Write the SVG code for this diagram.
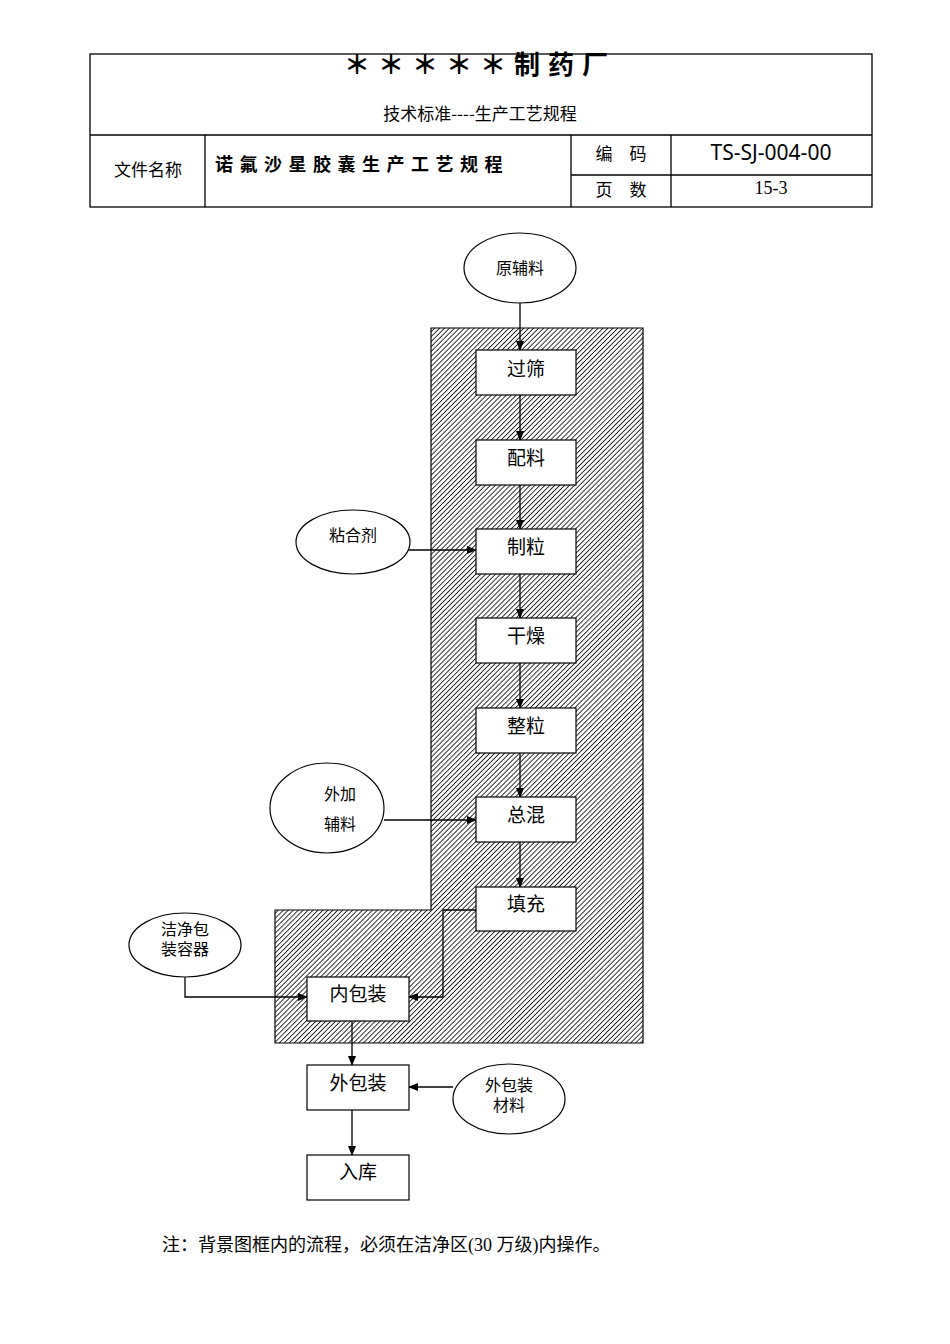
<svg xmlns="http://www.w3.org/2000/svg" width="950" height="1344" viewBox="0 0 950 1344">
<style>
text{font-family:"Liberation Serif","Noto Sans CJK SC",serif;fill:#000}
.ln{stroke:#000;stroke-width:1.3;fill:none}
.box{fill:#fff;stroke:#000;stroke-width:1.2}
.t{font-size:19px;text-anchor:middle}
.e{font-size:16px;text-anchor:middle}
.c{stroke:#000;stroke-width:1.3;fill:none;marker-end:url(#ah)}
</style>
<defs>
<pattern id="hp" width="3.5" height="3.5" patternUnits="userSpaceOnUse" patternTransform="rotate(45)">
<rect width="3.5" height="3.5" fill="#fff"/>
<line x1="0" y1="0" x2="0" y2="3.5" stroke="#111" stroke-width="1.7"/>
</pattern>
<marker id="ah" markerWidth="10" markerHeight="8" refX="9" refY="4" orient="auto" markerUnits="userSpaceOnUse">
<path d="M0,0L10,4L0,8z" fill="#000"/>
</marker>
</defs>
<g id="header">
<rect x="90" y="54" width="782" height="153" class="ln"/>
<line x1="90" y1="135" x2="872" y2="135" class="ln"/>
<line x1="205" y1="135" x2="205" y2="207" class="ln"/>
<line x1="571" y1="135" x2="571" y2="207" class="ln"/>
<line x1="671" y1="135" x2="671" y2="207" class="ln"/>
<line x1="571" y1="175" x2="872" y2="175" class="ln"/>
<text x="480" y="74" font-size="26" font-weight="bold" text-anchor="middle" letter-spacing="8">＊＊＊＊＊制药厂</text>
<text x="480" y="120" font-size="17" text-anchor="middle" style="font-family:'Noto Sans CJK SC',sans-serif">技术标准----生产工艺规程</text>
<text x="148" y="176" font-size="17" text-anchor="middle">文件名称</text>
<text x="215" y="171" font-size="18" font-weight="bold" letter-spacing="6.5">诺氟沙星胶囊生产工艺规程</text>
<text x="621" y="160" font-size="17" text-anchor="middle">编　码</text>
<text x="621" y="196" font-size="17" text-anchor="middle">页　数</text>
<text x="771" y="160" font-size="21" text-anchor="middle" style="font-family:'Noto Sans','Liberation Sans',sans-serif">TS-SJ-004-00</text>
<text x="771" y="194" font-size="18" text-anchor="middle">15-3</text>
</g>
<g id="clean-zone">
<path d="M431,328H643V1043H275V910H431Z" fill="url(#hp)" stroke="#000" stroke-width="1.2"/>
</g>
<g id="connectors">
<line x1="520" y1="303" x2="520" y2="350" class="c"/>
<line x1="520" y1="395" x2="520" y2="440" class="c"/>
<line x1="520" y1="485" x2="520" y2="529" class="c"/>
<line x1="520" y1="574" x2="520" y2="618" class="c"/>
<line x1="520" y1="663" x2="520" y2="708" class="c"/>
<line x1="520" y1="753" x2="520" y2="797" class="c"/>
<line x1="520" y1="842" x2="520" y2="887" class="c"/>
<line x1="407" y1="550" x2="476" y2="550" class="c"/>
<line x1="384" y1="820" x2="476" y2="820" class="c"/>
<path d="M476,910H443V997H409" class="c"/>
<path d="M185,977V997H307" class="c"/>
<line x1="352" y1="1021" x2="352" y2="1065" class="c"/>
<line x1="453" y1="1087" x2="409" y2="1087" class="c"/>
<line x1="352" y1="1110" x2="352" y2="1155" class="c"/>
</g>
<g id="n-raw"><ellipse cx="520" cy="268" rx="56" ry="35" class="box"/><text x="520" y="274" class="e">原辅料</text></g>
<g id="n-sieve"><rect x="476" y="350" width="100" height="45" class="box"/><text x="526" y="376" class="t">过筛</text></g>
<g id="n-mix"><rect x="476" y="440" width="100" height="45" class="box"/><text x="526" y="465" class="t">配料</text></g>
<g id="n-gran"><rect x="476" y="529" width="100" height="45" class="box"/><text x="526" y="554" class="t">制粒</text></g>
<g id="n-dry"><rect x="476" y="618" width="100" height="45" class="box"/><text x="526" y="643" class="t">干燥</text></g>
<g id="n-size"><rect x="476" y="708" width="100" height="45" class="box"/><text x="526" y="733" class="t">整粒</text></g>
<g id="n-blend"><rect x="476" y="797" width="100" height="45" class="box"/><text x="526" y="822" class="t">总混</text></g>
<g id="n-fill"><rect x="476" y="887" width="100" height="44" class="box"/><text x="526" y="911" class="t">填充</text></g>
<g id="n-inner"><rect x="307" y="977" width="102" height="44" class="box"/><text x="358" y="1001" class="t">内包装</text></g>
<g id="n-outer"><rect x="307" y="1065" width="102" height="45" class="box"/><text x="358" y="1090" class="t">外包装</text></g>
<g id="n-store"><rect x="307" y="1155" width="102" height="45" class="box"/><text x="358" y="1179" class="t">入库</text></g>
<g id="n-binder"><ellipse cx="353" cy="542" rx="57" ry="32" class="box"/><text x="353" y="541" class="e">粘合剂</text></g>
<g id="n-extra"><ellipse cx="327" cy="808" rx="57" ry="45" class="box"/><text x="340" y="800" class="e">外加</text><text x="340" y="830" class="e">辅料</text></g>
<g id="n-cont"><ellipse cx="185" cy="945" rx="56" ry="32" class="box"/><text x="185" y="935" class="e">洁净包</text><text x="185" y="955" class="e">装容器</text></g>
<g id="n-pack"><ellipse cx="509" cy="1099" rx="56" ry="35" class="box"/><text x="509" y="1091" class="e">外包装</text><text x="509" y="1111" class="e">材料</text></g>
<text x="162" y="1251" font-size="18">注：背景图框内的流程，必须在洁净区(30 万级)内操作。</text>
</svg>
